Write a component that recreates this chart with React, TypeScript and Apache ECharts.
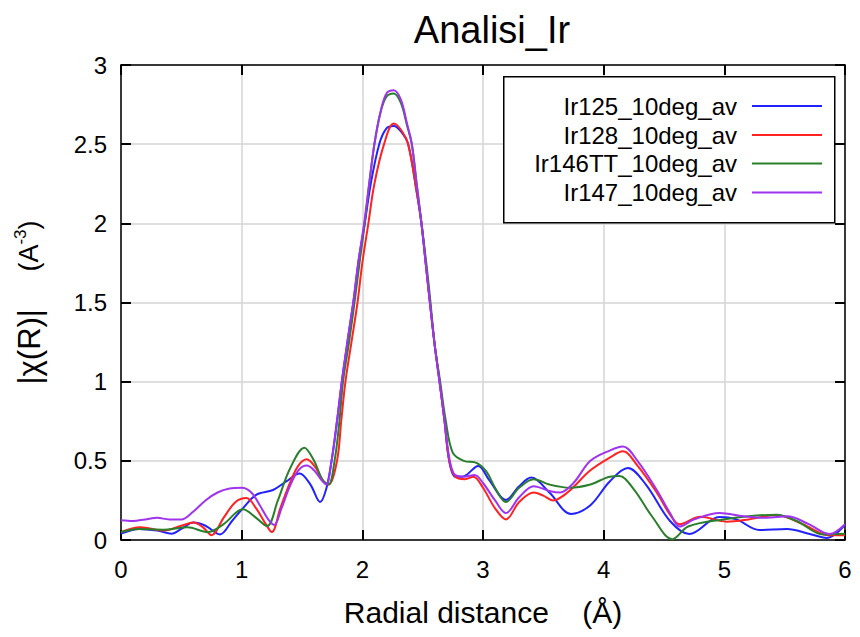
import React, { useEffect, useRef } from "react";
import * as echarts from "echarts";

const seriesNames = ["Ir125_10deg_av", "Ir128_10deg_av", "Ir146TT_10deg_av", "Ir147_10deg_av"];
const seriesColors = ["#2222ff", "#ff2222", "#2b7f2b", "#a033ee"];

const ir125: [number, number][] = [
  [0, 0.04], [0.15, 0.07], [0.3, 0.06], [0.42, 0.04], [0.5, 0.07], [0.6, 0.11], [0.7, 0.09], [0.82, 0.035],
  [0.92, 0.12], [1.01, 0.2], [1.12, 0.285], [1.26, 0.316], [1.37, 0.37], [1.48, 0.42], [1.57, 0.35],
  [1.65, 0.24], [1.7, 0.32], [1.745, 0.5], [1.79, 0.75], [1.83, 1.0], [1.88, 1.27], [1.925, 1.5],
  [1.97, 1.77], [2.02, 2.0], [2.07, 2.25], [2.14, 2.5], [2.2, 2.6], [2.26, 2.615], [2.32, 2.58],
  [2.38, 2.5], [2.45, 2.2], [2.49, 2.0], [2.525, 1.75], [2.56, 1.5], [2.6, 1.23], [2.64, 1.0],
  [2.68, 0.76], [2.72, 0.5], [2.77, 0.4], [2.83, 0.4], [2.96, 0.468], [3.05, 0.38], [3.19, 0.253],
  [3.3, 0.34], [3.4, 0.394], [3.55, 0.3], [3.73, 0.165], [3.89, 0.22], [4.05, 0.37], [4.2, 0.455],
  [4.35, 0.35], [4.55, 0.12], [4.71, 0.038], [4.96, 0.145], [5.1, 0.13], [5.29, 0.063], [5.52, 0.07],
  [5.7, 0.04], [5.85, 0.013], [6.0, 0.095],
];

const ir128: [number, number][] = [
  [0, 0.05], [0.16, 0.08], [0.36, 0.06], [0.5, 0.09], [0.6, 0.11], [0.68, 0.08], [0.75, 0.03],
  [0.85, 0.14], [0.95, 0.24], [1.04, 0.265], [1.12, 0.2], [1.2, 0.1], [1.25, 0.05], [1.32, 0.2],
  [1.4, 0.36], [1.47, 0.47], [1.54, 0.51], [1.61, 0.46], [1.67, 0.38], [1.72, 0.35], [1.79, 0.5],
  [1.825, 0.75], [1.86, 1.0], [1.91, 1.25], [1.96, 1.5], [2.0, 1.75], [2.05, 2.0], [2.1, 2.25],
  [2.18, 2.5], [2.26, 2.63], [2.33, 2.58], [2.38, 2.5], [2.45, 2.2], [2.49, 2.0], [2.525, 1.75],
  [2.56, 1.5], [2.6, 1.23], [2.64, 1.0], [2.68, 0.76], [2.72, 0.5], [2.77, 0.4], [2.85, 0.384],
  [2.92, 0.4], [3.0, 0.33], [3.1, 0.2], [3.19, 0.13], [3.3, 0.24], [3.42, 0.3], [3.5, 0.28],
  [3.58, 0.25], [3.7, 0.3], [3.89, 0.44], [4.05, 0.52], [4.16, 0.56], [4.28, 0.47], [4.44, 0.3],
  [4.55, 0.16], [4.63, 0.1], [4.8, 0.147], [5.02, 0.116], [5.2, 0.13], [5.43, 0.158], [5.65, 0.1],
  [5.87, 0.03], [6.0, 0.03],
];

const ir146tt: [number, number][] = [
  [0, 0.05], [0.15, 0.07], [0.35, 0.065], [0.55, 0.08], [0.72, 0.05], [0.85, 0.1], [1.01, 0.195],
  [1.12, 0.14], [1.21, 0.088], [1.3, 0.25], [1.4, 0.45], [1.52, 0.583], [1.6, 0.5], [1.67, 0.38],
  [1.72, 0.35], [1.77, 0.5], [1.81, 0.75], [1.84, 1.0], [1.89, 1.25], [1.935, 1.5], [1.98, 1.77],
  [2.02, 2.0], [2.06, 2.27], [2.1, 2.5], [2.15, 2.7], [2.2, 2.8], [2.26, 2.82], [2.32, 2.76],
  [2.37, 2.62], [2.41, 2.5], [2.45, 2.25], [2.49, 2.0], [2.53, 1.75], [2.565, 1.5], [2.6, 1.23],
  [2.645, 1.0], [2.69, 0.76], [2.75, 0.55], [2.84, 0.5], [2.95, 0.486], [3.03, 0.43], [3.1, 0.33],
  [3.19, 0.24], [3.3, 0.33], [3.42, 0.384], [3.55, 0.35], [3.72, 0.33], [3.89, 0.35], [4.05, 0.4],
  [4.13, 0.404], [4.25, 0.32], [4.4, 0.15], [4.57, 0.005], [4.7, 0.085], [4.99, 0.13], [5.2, 0.15],
  [5.43, 0.16], [5.6, 0.12], [5.82, 0.035], [6.0, 0.04],
];

const ir147: [number, number][] = [
  [0, 0.125], [0.1, 0.12], [0.2, 0.13], [0.3, 0.14], [0.4, 0.13], [0.5, 0.13], [0.6, 0.18], [0.7, 0.25],
  [0.8, 0.3], [0.9, 0.325], [1.0, 0.33], [1.08, 0.3], [1.15, 0.22], [1.22, 0.13], [1.27, 0.095],
  [1.33, 0.2], [1.4, 0.34], [1.47, 0.44], [1.54, 0.47], [1.6, 0.44], [1.66, 0.38], [1.7, 0.35],
  [1.745, 0.5], [1.79, 0.75], [1.83, 1.0], [1.88, 1.27], [1.925, 1.5], [1.97, 1.77], [2.015, 2.0],
  [2.06, 2.27], [2.1, 2.5], [2.15, 2.7], [2.2, 2.82], [2.26, 2.84], [2.32, 2.78], [2.37, 2.63],
  [2.41, 2.5], [2.45, 2.25], [2.49, 2.0], [2.525, 1.75], [2.56, 1.5], [2.6, 1.23], [2.64, 1.0],
  [2.68, 0.76], [2.725, 0.5], [2.77, 0.41], [2.85, 0.4], [2.93, 0.41], [3.0, 0.36], [3.1, 0.25],
  [3.19, 0.17], [3.3, 0.27], [3.42, 0.34], [3.55, 0.31], [3.64, 0.3], [3.75, 0.36], [3.89, 0.5],
  [4.05, 0.565], [4.16, 0.59], [4.28, 0.5], [4.44, 0.316], [4.55, 0.17], [4.63, 0.085], [4.75, 0.13],
  [4.96, 0.17], [5.16, 0.15], [5.35, 0.14], [5.52, 0.15], [5.7, 0.1], [5.87, 0.038], [6.0, 0.1],
];

const seriesData = [ir125, ir128, ir146tt, ir147];
const xTicks = { min: 0, max: 6, interval: 1 };
const yTicks = { min: 0, max: 3, interval: 0.5 };
const titleText = "Analisi_Ir";
const xName = "Radial distance    (Å)";

const FONT = "'Liberation Sans', Arial, Helvetica, sans-serif";

export default function App() {
  const ref = useRef<HTMLDivElement>(null);
  useEffect(() => {
    if (!ref.current) return;
    const chart = echarts.init(ref.current, undefined, { renderer: "svg" });
    const gridLeft = 121;
    const gridRight = 15;
    const gridTop = 65;
    const gridBottom = 97;
    const mkLine = () => ({ show: true, onZero: false, lineStyle: { color: "#000", width: 1.5 } });
    const mkTick = () => ({ show: true, inside: false, length: -10, lineStyle: { color: "#000", width: 2 } });
    const legendRows = [106, 135, 163.5, 192.5];
    const option: any = {
      animation: false,
      backgroundColor: "#fff",
      textStyle: { fontFamily: FONT },
      title: {
        text: titleText,
        left: 487,
        textAlign: "center",
        top: 6,
        textStyle: { fontSize: 38, fontWeight: "normal", color: "#000", fontFamily: FONT },
      },
      grid: { left: gridLeft, right: gridRight, top: gridTop, bottom: gridBottom, containLabel: false },
      xAxis: [
        {
          type: "value",
          position: "bottom",
          ...xTicks,
          axisLine: mkLine(),
          axisTick: mkTick(),
          axisLabel: { fontSize: 24, color: "#000", margin: 17, fontFamily: FONT },
          splitLine: { show: true, lineStyle: { color: "#d4d4d4", width: 1.5 } },
          name: xName,
          nameLocation: "middle",
          nameGap: 57,
          nameTextStyle: { fontSize: 30, color: "#000", fontFamily: FONT },
        },
        {
          type: "value",
          position: "top",
          ...xTicks,
          axisLine: mkLine(),
          axisTick: mkTick(),
          axisLabel: { show: false },
          splitLine: { show: false },
        },
      ],
      yAxis: [
        {
          type: "value",
          position: "left",
          ...yTicks,
          axisLine: mkLine(),
          axisTick: mkTick(),
          axisLabel: { fontSize: 24, color: "#000", margin: 14, fontFamily: FONT },
          splitLine: { show: true, lineStyle: { color: "#d4d4d4", width: 1.5 } },
          name: "{a||χ(R)|}{b|     (A}{c|-3}{b|)}",
          nameLocation: "middle",
          nameRotate: 90,
          nameGap: 74,
          nameTextStyle: {
            color: "#000",
            fontFamily: FONT,
            rich: {
              a: { fontSize: 31, color: "#000", fontFamily: FONT, lineHeight: 36 },
              b: { fontSize: 27, color: "#000", fontFamily: FONT },
              c: { fontSize: 17, color: "#000", fontFamily: FONT, verticalAlign: "top", padding: [1, 0, 0, 0] },
            },
          },
        },
        {
          type: "value",
          position: "right",
          ...yTicks,
          axisLine: mkLine(),
          axisTick: mkTick(),
          axisLabel: { show: false },
          splitLine: { show: false },
        },
      ],
      legend: seriesNames.map((n, i) => ({
        data: [n],
        orient: "horizontal",
        right: 38,
        top: legendRows[i] - 12,
        align: "right",
        icon: "rect",
        itemWidth: 70,
        itemHeight: 2,
        selectedMode: false,
        padding: 0,
        textStyle: { fontSize: 24, color: "#000", fontFamily: FONT, padding: [0, 10, 0, 0] },
        z: 5,
      })),
      graphic: [
        {
          type: "rect",
          left: 503,
          top: 76,
          z: 3,
          shape: { width: 331, height: 146 },
          style: { fill: "#fff", stroke: "#000", lineWidth: 1.5 },
        },
      ],
      series: seriesNames.map((n, i) => ({
        name: n,
        type: "line",
        xAxisIndex: 0,
        yAxisIndex: 0,
        data: seriesData[i],
        smooth: 0.35,
        symbol: "none",
        showSymbol: false,
        lineStyle: { width: 2, color: seriesColors[i] },
        itemStyle: { color: seriesColors[i] },
        z: 2,
      })),
    };
    chart.setOption(option);
    return () => chart.dispose();
  }, []);
  return (
    <div
      ref={ref}
      style={{ position: "fixed", left: 0, top: 0, width: 860, height: 637, background: "#fff" }}
    />
  );
}
